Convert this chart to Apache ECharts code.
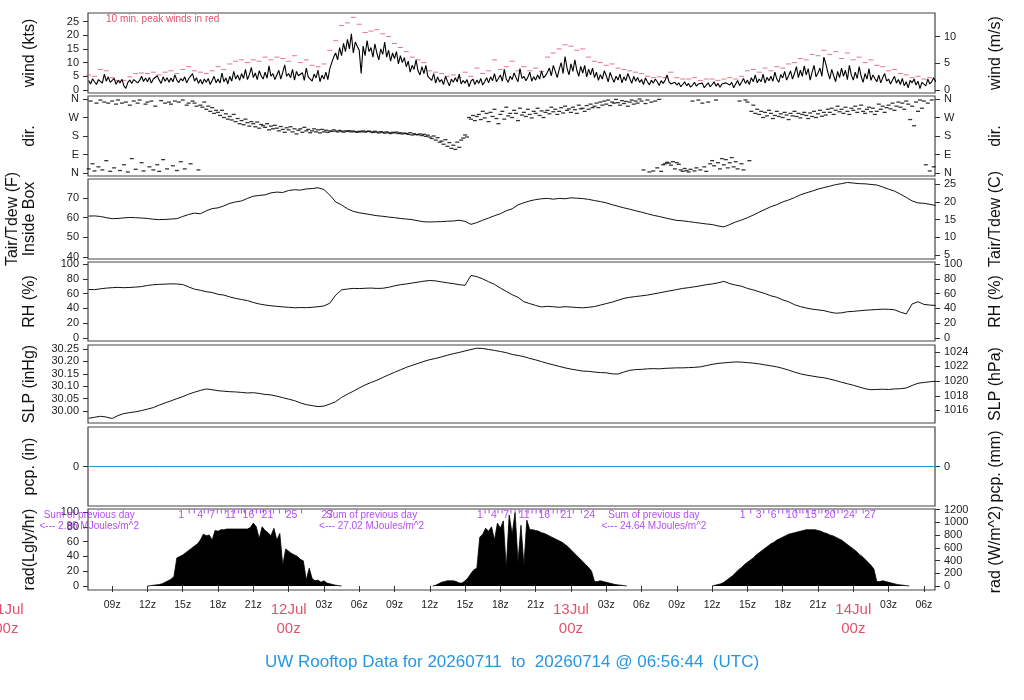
<!DOCTYPE html>
<html style="height: 100%; margin: 0">
<head>
<meta charset="UTF-8">
<title>UW Rooftop Data</title>
</head>
<body style="height: 100%; margin: 0; background: #fff">
<div id="container" style="width: 1024px; height: 700px"></div>
<script type="text/javascript" src="https://cdn.jsdelivr.net/npm/echarts@6.0.0/dist/echarts.min.js"></script>
<script type="text/javascript">
	// time axis in hours after 11Jul 00z
	var tStart = 6.946, tEnd = 78.946;
	var xTicks = [9, 12, 15, 18, 21, 24, 27, 30, 33, 36, 39, 42, 45, 48, 51, 54, 57, 60, 63, 66, 69, 72, 75, 78];

	// wind speed (kts), every 10 min from 07z
	var windStart = 7, windStep = 1 / 6;
	var windKts = [
		3.5, 2.2, 4.1, 3.0, 2.0, 3.8,
		4.5, 2.5, 5.8, 3.2, 4.8, 2.8,
		3.0, 4.2, 2.1, 3.5, 2.6, 3.9,
		1.5, 0.6, 2.8, 3.6, 2.4, 3.8,
		4.2, 2.6, 3.5, 5.0, 3.1, 4.4,
		3.0, 4.6, 2.5, 4.0, 3.4, 5.2,
		3.6, 2.4, 4.8, 3.2, 4.5, 2.8,
		4.4, 3.0, 5.5, 3.6, 2.7, 4.2,
		3.3, 4.8, 2.6, 4.1, 3.5, 6.0,
		3.2, 4.5, 2.4, 3.8, 2.2, 4.0,
		2.8, 4.2, 2.0, 3.5, 5.0, 2.6,
		4.0, 2.5, 6.2, 3.0, 4.4, 2.2,
		5.0, 3.2, 6.8, 4.0, 5.5, 3.5,
		6.0, 4.2, 7.5, 3.8, 5.6, 8.2,
		4.5, 6.2, 3.8, 7.0, 5.2, 4.0,
		6.5, 4.3, 8.8, 5.0, 6.0, 3.8,
		5.5, 7.2, 4.0, 6.4, 9.2, 5.0,
		6.0, 4.5, 7.5, 3.6, 6.8, 5.2,
		4.5, 6.3, 3.5, 8.0, 4.8, 5.5,
		3.2, 5.8, 4.4, 7.2, 3.0, 5.4,
		4.0, 6.5, 3.8, 7.8, 10.0, 12.0,
		13.5, 11.0, 15.5, 12.5, 17.0, 14.0,
		18.5, 15.0, 20.5, 13.5, 17.5, 16.0,
		14.5, 6.0, 16.0, 12.5, 18.0, 14.0,
		15.5, 12.0, 16.8, 13.5, 11.0, 15.0,
		13.0, 17.5, 12.0, 14.5, 10.5, 13.5,
		11.5, 14.0, 9.5, 12.5, 10.0, 11.8,
		8.5, 10.5, 6.5, 9.0, 7.5, 11.0,
		7.0, 5.5, 8.5, 6.0, 9.0, 5.0,
		4.5, 3.5, 6.0, 2.5, 4.8, 3.0,
		3.8, 2.0, 5.0, 3.2, 1.5, 4.0,
		2.8, 4.5, 3.0, 5.8, 2.2, 3.5,
		2.5, 3.8, 1.2, 3.2, 4.0, 2.0,
		3.6, 2.4, 4.2, 1.8, 3.0, 4.5,
		2.6, 4.8, 3.4, 6.0, 3.0, 4.2,
		5.5, 3.2, 7.5, 4.0, 2.8, 5.0,
		3.8, 6.2, 4.5, 3.0, 7.8, 4.2,
		5.0, 3.4, 4.6, 6.5, 3.2, 4.8,
		3.6, 5.5, 4.0, 7.0, 4.4, 5.2,
		6.5, 8.0, 5.2, 9.0, 6.8, 4.5,
		7.5, 10.0, 6.0, 12.2, 8.0, 5.5,
		9.5, 6.8, 11.0, 7.2, 5.0, 8.6,
		6.2, 9.0, 4.8, 7.6, 5.5, 8.0,
		4.5, 6.5, 3.5, 5.6, 4.0, 7.0,
		5.2, 3.0, 6.4, 4.4, 2.8, 5.0,
		3.6, 5.8, 2.6, 4.8, 3.4, 6.0,
		4.2, 2.4, 5.0, 3.2, 4.6, 2.8,
		3.8, 2.0, 4.4, 3.0, 1.8, 3.6,
		2.5, 4.0, 3.0, 1.6, 3.4, 2.4,
		3.5, 5.5, 3.0, 2.2, 1.5, 2.8,
		1.8, 2.6, 1.2, 2.0, 3.0, 1.5,
		2.4, 1.0, 1.8, 2.8, 1.4, 2.2,
		1.6, 2.5, 0.8, 1.8, 2.6, 1.2,
		2.0, 3.0, 1.4, 2.4, 1.0, 2.2,
		1.5, 2.6, 3.2, 1.8, 2.8, 0.8,
		2.2, 3.5, 1.6, 2.8, 4.2, 2.4,
		3.6, 2.0, 4.5, 3.0, 5.5, 2.6,
		4.0, 3.0, 5.8, 2.5, 4.6, 3.4,
		5.0, 3.2, 6.5, 4.0, 2.8, 5.6,
		4.4, 6.8, 3.6, 5.2, 7.0, 4.0,
		6.0, 8.5, 4.5, 7.2, 5.0, 8.8,
		5.5, 7.8, 3.6, 6.5, 9.0, 4.8,
		6.2, 8.0, 5.0, 12.0, 9.5, 6.5,
		4.0, 7.5, 5.2, 3.0, 6.8, 4.5,
		8.0, 5.0, 7.2, 3.8, 9.0, 5.5,
		3.6, 6.5, 4.2, 8.5, 5.0, 2.8,
		6.0, 4.0, 7.8, 3.5, 5.5, 4.2,
		3.0, 5.4, 2.6, 4.5, 6.0, 3.2,
		4.0, 2.2, 3.6, 5.0, 2.5, 3.8,
		2.0, 4.2, 1.5, 3.0, 0.8, 3.5,
		2.6, 4.0, 1.8, 3.2, 0.5, 2.8,
		3.5, 1.5, 4.0, 2.2, 3.0, 4.5,
		3.0
	];

	// 10 min peak winds (kts), every 30 min from 07z
	var gustStart = 7, gustStep = 0.5;
	var gustKts = [
		5.5, 5.0, 7.5, 7.0, 4.5, 3.5, 3.5, 4.8, 6.0, 6.2, 6.0, 6.5,
		5.5, 6.5, 7.0, 6.0, 7.5, 8.5, 7.0, 6.5, 6.0, 7.0, 8.5, 7.5,
		9.5, 10.5, 11.0, 10.0, 11.0, 10.5, 12.0, 11.0, 12.0, 11.5, 10.5, 12.5,
		10.0, 11.0, 9.0, 8.5, 9.5, 14.5, 18.0, 23.5, 24.5, 26.5, 24.0, 21.0,
		21.5, 22.0, 20.5, 19.5, 17.0, 15.5, 14.0, 12.0, 11.0, 10.0, 7.0, 6.5,
		6.0, 5.0, 5.5, 4.5, 6.5, 5.0, 8.0, 6.0, 7.0, 11.0, 7.5, 8.5,
		10.5, 7.0, 8.5, 7.0, 8.0, 6.8, 12.0, 13.5, 15.0, 16.5, 16.0, 14.5,
		15.0, 12.0, 10.5, 10.0, 9.0, 9.5, 8.0, 7.5, 7.0, 6.5, 6.0, 5.0,
		4.5, 4.8, 4.5, 6.5, 4.5, 4.0, 4.0, 4.5, 3.5, 4.0, 4.0, 3.5,
		4.0, 4.5, 4.0, 5.0, 7.0, 7.5, 6.5, 8.0, 7.0, 8.5, 8.0, 9.5,
		10.0, 11.5, 11.0, 13.0, 12.5, 14.5, 13.0, 14.0, 11.5, 13.5, 11.0, 12.0,
		10.0, 11.0, 9.0, 8.5, 7.0, 7.5, 6.0, 5.5, 4.5, 5.0, 4.0, 4.5,
		5.0
	];

	// wind direction (deg), every 10 min from 07z
	var dirStart = 7, dirStep = 1 / 6;
	var dirDeg = [
		20, 350, 45, 10, 340, 30,
		355, 15, 345, 60, 340, 8,
		350, 25, 335, 355, 12, 340,
		40, 345, 5, 330, 70, 350,
		18, 340, 355, 50, 10, 335,
		345, 30, 350, 15, 325, 40,
		8, 352, 65, 340, 20, 345,
		335, 35, 350, 12, 345, 55,
		355, 20, 330, 340, 45, 350,
		340, 325, 15, 330, 320, 345,
		310, 325, 300, 318, 290, 305,
		295, 280, 305, 270, 288, 262,
		275, 258, 285, 250, 265, 240,
		255, 235, 262, 245, 228, 250,
		240, 225, 248, 218, 236, 230,
		222, 240, 210, 228, 215, 232,
		218, 205, 226, 212, 198, 220,
		210, 225, 200, 215, 190, 208,
		215, 198, 222, 205, 212, 196,
		205, 215, 200, 210, 195, 212,
		200, 208, 198, 205, 202, 210,
		204, 200, 207, 203, 199, 205,
		202, 206, 200, 204, 201, 198,
		203, 200, 205, 199, 202, 204,
		200, 197, 203, 199, 195, 201,
		198, 194, 200, 196, 192, 198,
		195, 199, 192, 196, 190, 194,
		192, 188, 196, 185, 191, 187,
		186, 190, 182, 188, 178, 184,
		175, 168, 180, 160, 172, 150,
		155, 140, 162, 130, 148, 120,
		135, 115, 150, 125, 160, 170,
		185, 175, 270, 262, 280, 255,
		275, 285, 260, 300, 268, 290,
		250, 295, 275, 310, 265, 240,
		285, 300, 262, 320, 278, 290,
		270, 305, 290, 255, 315, 282,
		295, 275, 310, 285, 268, 300,
		290, 315, 280, 302, 270, 295,
		305, 288, 320, 298, 310, 285,
		300, 318, 292, 325, 305, 312,
		295, 320, 308, 290, 330, 312,
		315, 300, 328, 310, 335, 318,
		325, 340, 318, 345, 330, 350,
		335, 355, 328, 345, 340, 358,
		342, 330, 352, 338, 348, 325,
		345, 355, 335, 350, 340, 360,
		350, 15, 338, 355, 5, 345,
		10, 350, 25, 358, 8, 40,
		45, 52, 48, 38, 55, 20,
		50, 42, 15, 8, 22, 12,
		5, 18, 350, 10, 25, 355,
		15, 340, 30, 8, 345, 45,
		60, 35, 355, 50, 20, 70,
		40, 65, 25, 50, 75, 30,
		55, 20, 350, 45, 15, 355,
		345, 60, 300, 330, 290, 310,
		285, 300, 270, 295, 278, 305,
		290, 265, 280, 300, 275, 288,
		270, 295, 282, 260, 290, 278,
		300, 275, 290, 268, 285, 295,
		280, 265, 292, 275, 300, 270,
		288, 305, 276, 295, 282, 310,
		295, 315, 285, 305, 325, 298,
		310, 290, 320, 300, 285, 315,
		305, 325, 295, 312, 330, 300,
		290, 310, 320, 298, 315, 285,
		300, 335, 310, 325, 295, 318,
		330, 312, 340, 305, 325, 345,
		320, 340, 310, 350, 335, 260,
		325, 230, 345, 300, 355, 315,
		350, 40, 340, 10, 355, 30,
		345
	];

	// temperature (F), RH (%), SLP (inHg), every 30 min from 07z
	var metStart = 7, metStep = 0.5;
	var tempF = [
		60.8, 60.9, 60.6, 60.0, 59.5, 59.6, 59.9, 60.1, 60.0, 59.8, 59.6, 59.2,
		59.0, 59.1, 59.3, 59.5, 60.6, 61.6, 62.3, 62.0, 63.5, 64.6, 65.0, 66.0,
		67.3, 68.0, 68.5, 69.8, 70.9, 71.3, 71.6, 72.6, 73.0, 72.8, 73.8, 74.2,
		74.0, 74.6, 74.8, 75.2, 74.3, 71.5, 68.0, 66.5, 64.5, 63.2, 62.5, 62.0,
		61.5, 61.0, 60.7, 60.3, 60.0, 59.6, 59.3, 59.0, 58.4, 57.9, 57.8, 57.9,
		58.0, 58.2, 58.3, 58.7, 58.1, 56.6, 57.5, 58.7, 59.8, 61.0, 62.0, 63.5,
		64.5, 66.5, 67.6, 68.5, 69.2, 69.6, 69.8, 69.4, 69.8, 69.6, 70.1, 69.9,
		69.7, 69.3, 68.7, 68.2, 67.5, 66.6, 65.8, 65.0, 64.3, 63.5, 62.8, 62.0,
		61.2, 60.6, 59.9, 59.2, 58.6, 58.4, 58.0, 57.6, 57.2, 56.8, 56.5, 55.8,
		55.3, 56.5, 57.8, 58.8, 60.0, 61.3, 62.8, 64.2, 65.6, 66.6, 68.0, 69.0,
		70.2, 71.6, 72.6, 73.5, 74.5, 75.3, 76.0, 76.8, 77.3, 77.9, 77.6, 77.3,
		77.2, 76.9, 76.6, 75.6, 74.5, 73.5, 72.0, 70.3, 68.5, 67.5, 67.3, 66.8,
		66.2
	];
	var rhPct = [
		65.6, 65.3, 66.5, 67.4, 68.0, 68.4, 68.0, 68.3, 68.8, 69.5, 71.0, 72.0,
		72.5, 72.8, 73.2, 73.0, 72.2, 69.0, 66.0, 64.5, 62.5, 61.5, 59.0, 58.0,
		55.5, 53.5, 52.0, 50.5, 48.0, 46.0, 44.6, 43.5, 42.8, 42.0, 41.5, 40.8,
		41.2, 41.0, 41.5, 42.3, 43.3, 47.0, 58.0, 65.0, 66.2, 67.0, 66.8, 67.2,
		67.5, 67.0, 67.2, 68.5, 70.5, 72.0, 73.0, 74.3, 75.5, 76.8, 77.7, 77.2,
		75.8, 74.5, 73.5, 72.0, 71.2, 84.5, 83.0, 79.8, 76.0, 72.5, 67.5, 63.0,
		58.5, 55.0, 49.0, 46.5, 44.0, 42.0, 42.8, 42.2, 41.5, 42.3, 41.8, 41.2,
		40.8, 41.5, 42.5, 44.5, 46.5, 48.5, 51.0, 53.5, 55.0, 56.0, 57.0, 58.0,
		59.5, 61.0, 62.5, 64.0, 65.5, 67.0, 68.0, 69.2, 70.5, 72.0, 73.0, 74.5,
		76.5, 73.5, 71.5, 70.0, 67.0, 65.0, 62.5, 60.0, 57.0, 55.0, 51.5, 49.0,
		45.0, 42.5, 40.5, 39.0, 38.0, 37.0, 35.0, 33.5, 34.0, 35.5, 36.0, 36.8,
		37.5, 38.0, 38.5, 39.0, 38.8, 38.2, 35.0, 32.5, 46.0, 49.0, 45.5, 44.5,
		44.0
	];
	var slpInHg = [
		29.971, 29.975, 29.979, 29.976, 29.970, 29.982, 29.990, 29.994, 29.997, 30.002, 30.008, 30.014,
		30.024, 30.033, 30.041, 30.050, 30.058, 30.068, 30.076, 30.083, 30.089, 30.086, 30.082, 30.080,
		30.078, 30.077, 30.075, 30.073, 30.074, 30.071, 30.067, 30.065, 30.060, 30.054, 30.048, 30.042,
		30.033, 30.026, 30.022, 30.018, 30.020, 30.028, 30.038, 30.055, 30.068, 30.080, 30.093, 30.105,
		30.115, 30.124, 30.135, 30.146, 30.156, 30.166, 30.176, 30.184, 30.192, 30.200, 30.207, 30.212,
		30.218, 30.225, 30.231, 30.236, 30.242, 30.248, 30.253, 30.252, 30.248, 30.244, 30.240, 30.235,
		30.228, 30.224, 30.219, 30.212, 30.206, 30.199, 30.192, 30.186, 30.180, 30.174, 30.169, 30.165,
		30.161, 30.160, 30.157, 30.155, 30.154, 30.150, 30.149, 30.157, 30.164, 30.167, 30.168, 30.170,
		30.171, 30.170, 30.172, 30.173, 30.174, 30.174, 30.175, 30.176, 30.178, 30.183, 30.188, 30.192,
		30.194, 30.196, 30.198, 30.197, 30.195, 30.193, 30.190, 30.186, 30.182, 30.178, 30.172, 30.165,
		30.157, 30.150, 30.145, 30.141, 30.137, 30.134, 30.129, 30.123, 30.116, 30.110, 30.104, 30.097,
		30.090, 30.086, 30.087, 30.088, 30.087, 30.089, 30.090, 30.093, 30.103, 30.112, 30.115, 30.118,
		30.120
	];

	// precipitation (in), every 6 h from 07z
	var pcpStart = 7, pcpStep = 6;
	var pcpIn = [0, 0, 0, 0, 0, 0, 0, 0, 0, 0, 0, 0, 0];

	// solar radiation (Langley/hr), every 15 min during daylight
	var radStep = 0.25;
	var rad1Start = 12, rad2Start = 36.25, rad3Start = 60;
	var radDay1 = [
		0, 0.5, 1, 1.5, 2, 3, 5, 7, 9, 13, 38, 40,
		42, 45, 48, 51, 54, 57, 62, 70, 68, 69, 62, 75,
		74, 76, 76, 77, 77, 77, 77, 77, 77, 77, 77, 79,
		85, 80, 64, 80, 75, 72, 68, 78, 62, 71, 28, 50,
		47, 44, 42, 40, 36, 34, 8, 24, 10, 7, 8, 5,
		7, 4, 3, 2, 1, 0.5, 0
	];
	var radDay2 = [
		0, 1, 3, 5, 6, 7, 7, 7, 6, 4, 4, 7,
		11, 17, 22, 24, 66, 70, 78, 74, 80, 62, 85, 78,
		88, 24, 96, 70, 99, 32, 82, 28, 89, 76, 76, 75,
		74, 72, 71, 69, 67, 65, 63, 61, 59, 56, 53, 49,
		45, 41, 37, 33, 29, 25, 20, 6, 6, 7, 6, 5,
		4, 3, 2, 1.5, 1, 0.5, 0
	];
	var radDay3 = [
		0, 1, 2, 3, 5, 8, 11, 14, 18, 22, 25, 29,
		32, 35, 38, 42, 45, 48, 51, 54, 57, 59, 62, 64,
		66, 68, 70, 71, 72, 73, 74, 75, 76, 76, 76, 76,
		75, 74, 72, 71, 69, 68, 66, 64, 62, 59, 56, 53,
		50, 47, 43, 40, 36, 32, 28, 23, 6, 6, 7, 6,
		5, 4, 3, 2, 1.5, 1, 0.5, 0
	];

	// hour at which each whole MJoule/m^2 of the day was reached
	var mjDay1 = [14.87, 15.55, 15.98, 16.49, 16.83, 17.17, 17.51, 17.94, 18.28, 18.62, 19.05, 19.39, 19.73, 19.99,
		20.24, 20.58, 20.92, 21.26, 21.61, 21.86, 22.2, 22.71, 23.22, 23.74, 24.25, 25.1, 27.3];
	var mjDay2 = [40.26, 40.7, 41.04, 41.45, 41.8, 42.15, 42.49, 42.9, 43.25, 43.6, 44.02, 44.36, 44.7, 45.04,
		45.39, 45.73, 46.07, 46.49, 46.83, 47.17, 47.6, 48.2, 48.88, 49.56];
	var mjDay3 = [62.6, 63.28, 63.96, 64.39, 64.82, 65.24, 65.66, 66.0, 66.35, 66.78, 67.12, 67.46, 67.71, 68.06,
		68.4, 68.74, 69.08, 69.33, 69.67, 70.0, 70.36, 70.7, 71.05, 71.64, 72.24, 72.84, 73.43];
	var mjShown1 = [1, 4, 7, 11, 16, 21, 25, 27];
	var mjShown2 = [1, 4, 7, 11, 16, 21, 24];
	var mjShown3 = [1, 3, 6, 10, 15, 20, 24, 27];
	var sumHours = [7.05, 31.05, 55.05];
	var sumMJ = ['2.86', '27.02', '24.64'];

	var font = "'Liberation Sans', Arial, Helvetica, sans-serif";
	var red = '#DF536B', purple = '#A020F0', blue = '#2297E6';

	function toXY(arr, start, step) {
		return arr.map(function (v, i) { return [start + i * step, v]; });
	}
	function mjItems(hours, shown) {
		return hours.map(function (h, i) {
			var n = i + 1;
			if (shown.indexOf(n) >= 0) {
				return {value: [h, 95.9], symbol: 'rect', symbolSize: 1,
					itemStyle: {color: 'rgba(0,0,0,0)'},
					label: {show: true, formatter: String(n)}};
			}
			return {value: [h, 100.6], symbol: 'rect', symbolSize: [1, 4]};
		});
	}

	var panels = [
		{top: 13, height: 80}, {top: 96, height: 80}, {top: 179, height: 80}, {top: 262, height: 79},
		{top: 345, height: 78}, {top: 427, height: 79}, {top: 509, height: 81}
	];
	var grids = panels.map(function (p) {
		return {left: 88, right: 89, top: p.top, height: p.height, show: true,
			outerBoundsMode: 'none', containLabel: false,
			borderColor: '#444', borderWidth: 1.2, backgroundColor: 'transparent'};
	});

	var xAxes = grids.map(function (g, i) {
		var last = i === grids.length - 1;
		return {
			type: 'value', gridIndex: i, min: tStart, max: tEnd,
			axisLine: {show: false}, splitLine: {show: false},
			axisTick: {show: last, customValues: xTicks, length: 6, lineStyle: {color: '#333'}},
			axisLabel: {
				show: last, customValues: xTicks, margin: 10, fontSize: 10.5, color: '#222', fontFamily: font,
				formatter: function (v) {
					var h = Math.round(v), hh = h % 24;
					if (hh === 0) return '{d|' + (11 + h / 24) + 'Jul}\n{d|00z}';
					return (hh < 10 ? '0' : '') + hh + 'z';
				},
				rich: {d: {color: red, fontSize: 15, lineHeight: 19, fontFamily: font}}
			}
		};
	});

	function yAx(gi, pos, min, max, ticks, name, fmt) {
		return {
			type: 'value', gridIndex: gi, position: pos, min: min, max: max,
			name: name, nameLocation: 'middle', nameRotate: 90, nameGap: pos === 'left' ? 50 : 52,
			nameTextStyle: {fontSize: 16, color: '#111', fontFamily: font, lineHeight: 17},
			axisLine: {show: false}, splitLine: {show: false},
			axisTick: {show: true, customValues: ticks, length: 5, lineStyle: {color: '#333'}},
			axisLabel: {customValues: ticks, formatter: fmt, fontSize: 11, color: '#222', margin: 9, fontFamily: font}
		};
	}
	var dirName = function (v) { return {0: 'N', 90: 'E', 180: 'S', 270: 'W', 360: 'N'}[Math.round(v)]; };
	var plain = function (v) { return String(Math.round(v)); };
	var yAxes = [
		yAx(0, 'left', -1.1, 28.1, [0, 5, 10, 15, 20, 25], 'wind (kts)', plain),
		yAx(0, 'right', -1.1 * 0.5144, 28.1 * 0.5144, [0, 5, 10], 'wind (m/s)', plain),
		yAx(1, 'left', -14.6, 374.6, [0, 90, 180, 270, 360], 'dir.', dirName),
		yAx(1, 'right', -14.6, 374.6, [0, 90, 180, 270, 360], 'dir.', dirName),
		yAx(2, 'left', 38.98, 79.66, [40, 50, 60, 70], 'Tair/Tdew (F)\nInside Box', plain),
		yAx(2, 'right', (38.98 - 32) * 5 / 9, (79.66 - 32) * 5 / 9, [5, 10, 15, 20, 25], 'Tair/Tdew (C)', plain),
		yAx(3, 'left', -4.05, 102.7, [0, 20, 40, 60, 80, 100], 'RH (%)', plain),
		yAx(3, 'right', -4.05, 102.7, [0, 20, 40, 60, 80, 100], 'RH (%)', plain),
		yAx(4, 'left', 29.952, 30.266, [30.00, 30.05, 30.10, 30.15, 30.20, 30.25], 'SLP (inHg)',
			function (v) { return v.toFixed(2); }),
		yAx(4, 'right', 29.952 * 33.8639, 30.266 * 33.8639, [1016, 1018, 1020, 1022, 1024], 'SLP (hPa)', plain),
		yAx(5, 'left', -1, 1, [0], 'pcp. (in)', plain),
		yAx(5, 'right', -1, 1, [0], 'pcp. (mm)', plain),
		yAx(6, 'left', -5.4, 104.05, [0, 20, 40, 60, 80, 100], 'rad(Lgly/hr)', plain),
		yAx(6, 'right', -5.4 * 11.622, 104.05 * 11.622, [0, 200, 400, 600, 800, 1000, 1200], 'rad (W/m^2)', plain)
	];

	function lineSeries(xi, data, color) {
		return {type: 'line', xAxisIndex: xi, yAxisIndex: xi * 2, data: data, symbol: 'none',
			lineStyle: {color: color || '#000', width: 1}, silent: true};
	}
	function radSeries(arr, start) {
		var s = lineSeries(6, toXY(arr, start, radStep));
		s.areaStyle = {color: '#000', opacity: 1};
		s.lineStyle.width = 0.8;
		return s;
	}

	var windLine = lineSeries(0, toXY(windKts, windStart, windStep));
	windLine.lineStyle.width = 1.1;
	var series = [
		windLine,
		{type: 'scatter', xAxisIndex: 0, yAxisIndex: 0, data: toXY(gustKts, gustStart, gustStep),
			symbol: 'rect', symbolSize: [5, 1], itemStyle: {color: red}, silent: true},
		{type: 'scatter', xAxisIndex: 1, yAxisIndex: 2, data: toXY(dirDeg, dirStart, dirStep),
			symbol: 'rect', symbolSize: [4, 1.3], itemStyle: {color: '#000'}, silent: true},
		lineSeries(2, toXY(tempF, metStart, metStep), '#111'),
		lineSeries(3, toXY(rhPct, metStart, metStep), '#111'),
		lineSeries(4, toXY(slpInHg, metStart, metStep), '#111'),
		lineSeries(5, toXY(pcpIn, pcpStart, pcpStep), blue),
		radSeries(radDay1, rad1Start),
		radSeries(radDay2, rad2Start),
		radSeries(radDay3, rad3Start),
		{type: 'scatter', xAxisIndex: 6, yAxisIndex: 12, silent: true,
			data: mjItems(mjDay1, mjShown1).concat(mjItems(mjDay2, mjShown2), mjItems(mjDay3, mjShown3)),
			itemStyle: {color: purple},
			label: {position: 'inside', color: purple, fontSize: 10.5, fontFamily: font}},
		{type: 'scatter', xAxisIndex: 6, yAxisIndex: 12, silent: true, symbol: 'rect', symbolSize: 1,
			itemStyle: {color: 'rgba(0,0,0,0)'},
			data: sumHours.map(function (h, i) { return {value: [h, 88.5], mj: sumMJ[i]}; }),
			label: {show: true, position: 'inside', color: purple, fontSize: 10, lineHeight: 11, fontFamily: font,
				align: 'center',
				formatter: function (p) { return 'Sum of previous day\n<--- ' + sumMJ[p.dataIndex] + ' MJoules/m^2'; }}}
	];

	var dom = document.getElementById("container");
	var myChart = echarts.init(dom);
	var option = {
		animation: false,
		backgroundColor: '#fff',
		title: {
			text: 'UW Rooftop Data for 20260711  to  20260714 @ 06:56:44  (UTC)',
			left: 'center', top: 649,
			textStyle: {color: blue, fontSize: 17, fontWeight: 'normal', fontFamily: font}
		},
		grid: grids,
		xAxis: xAxes,
		yAxis: yAxes,
		series: series
	};
	myChart.setOption(option, true);

	// day label for 11Jul 00z sits left of the plotted range
	var x0 = myChart.convertToPixel({xAxisIndex: 6}, 0);
	myChart.setOption({
		graphic: [
			{type: 'text', x: x0, y: 600, silent: true,
				style: {text: '11Jul\n00z', fill: red, fontSize: 15, lineHeight: 19, fontFamily: font,
					align: 'center', verticalAlign: 'top'}},
			{type: 'text', x: 106, y: 14, silent: true,
				style: {text: '10 min. peak winds in red', fill: red, fontSize: 10, fontFamily: font}}
		]
	});
</script>
</body>
</html>
